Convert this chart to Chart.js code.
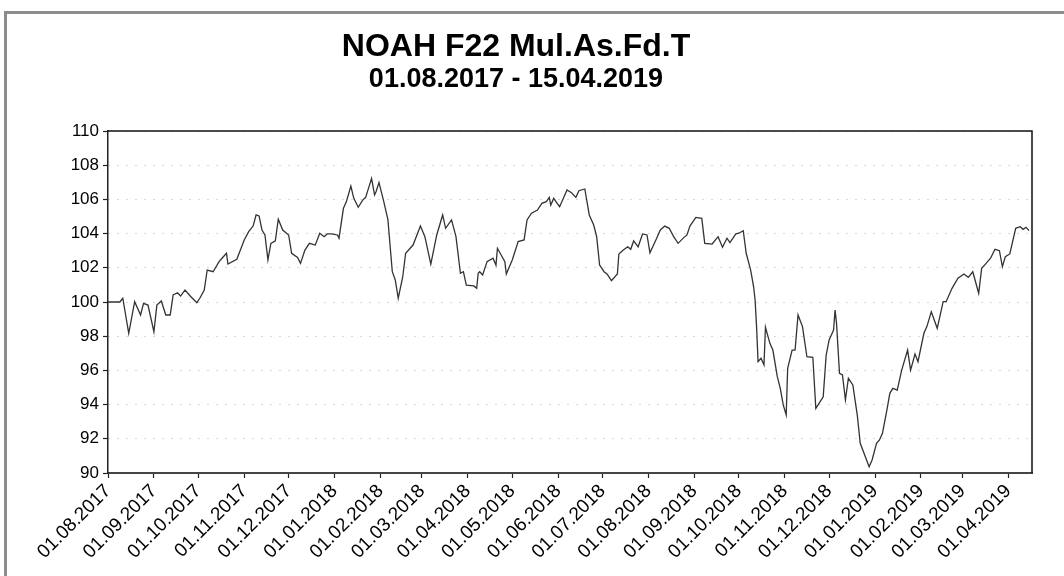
<!DOCTYPE html>
<html lang="de">
<head>
<meta charset="utf-8">
<script src="https://cdn.jsdelivr.net/npm/chart.js"></script>
<style>
    html, body { margin: 0; padding: 0; background: #fff; overflow: hidden; }
    .page { position: relative; width: 1064px; height: 576px; overflow: hidden; }
    .frame {
        position: absolute; left: 4px; top: 11px; width: 1100px; height: 620px;
        border: 3px solid #8c8c8c; box-sizing: border-box;
    }
    #chart { position: absolute; left: 0; top: 0; }
</style>
</head>
<body>
<div class="page">
    <div class="frame"></div>
    <canvas id="chart" width="1064" height="576"></canvas>
</div>
<script>
    const chartTitle = 'NOAH F22 Mul.As.Fd.T';
    const chartSubtitle = '01.08.2017 - 15.04.2019';
    const startDate = '01.08.2017';

    // days since 01.08.2017
    const dayOffsets = [
        0, 8, 10, 14, 18, 22, 24, 27, 31, 33, 36, 39, 42, 44, 47, 49, 52, 56, 60, 62,
        65, 67, 71, 75, 77, 80, 81, 87, 92, 95, 98, 100, 102, 104, 106, 108, 110, 113, 115, 118,
        122, 124, 128, 130, 133, 136, 140, 143, 146, 148, 151, 155, 156, 159, 161, 164, 166, 169, 172, 174,
        178, 180, 181, 183, 186, 189, 192, 194, 196, 199, 201, 206, 211, 214, 218, 222, 226, 228, 232, 235,
        238, 240, 242, 247, 249, 250, 251, 253, 256, 260, 262, 263, 268, 269, 273, 277, 281, 283, 286, 290,
        293, 296, 298, 299, 301, 303, 305, 310, 313, 316, 318, 322, 325, 328, 330, 332, 335, 337, 340, 344,
        345, 348, 351, 353, 355, 358, 361, 364, 366, 370, 373, 376, 379, 382, 385, 389, 391, 393, 397, 401,
        403, 408, 412, 415, 418, 420, 424, 426, 429, 431, 434, 436, 437, 438, 439, 441, 443, 444, 447, 449,
        452, 454, 456, 458, 459, 462, 464, 466, 469, 472, 476, 478, 483, 485, 487, 490, 491, 492, 494, 496,
        498, 500, 503, 506, 508, 511, 514, 516, 519, 521, 523, 526, 528, 530, 533, 536, 540, 542, 545, 547,
        551, 553, 556, 560, 564, 566, 570, 574, 578, 581, 584, 588, 590, 593, 596, 599, 602, 604, 606, 609,
        613, 616, 618, 620, 622
    ];

    const prices = [
        100.0, 100.0, 100.22, 98.17, 100.02, 99.24, 99.92, 99.82, 98.26, 99.82, 100.06, 99.24, 99.24, 100.41, 100.54, 100.35, 100.70, 100.31, 99.96, 100.22,
        100.70, 101.87, 101.77, 102.36, 102.56, 102.85, 102.22, 102.50, 103.63, 104.11, 104.44, 105.09, 105.03, 104.21, 103.92, 102.46, 103.43, 103.58, 104.84, 104.21,
        103.92, 102.85, 102.61, 102.26, 103.04, 103.43, 103.33, 104.02, 103.82, 103.98, 103.98, 103.92, 103.73, 105.48, 105.87, 106.78, 106.06, 105.54, 105.96, 106.12,
        107.23, 106.26, 106.45, 106.98, 105.96, 104.84, 101.77, 101.29, 100.22, 101.45, 102.85, 103.33, 104.44, 103.82, 102.22, 103.92, 105.09, 104.31, 104.80, 103.82,
        101.68, 101.77, 100.99, 100.94, 100.80, 101.68, 101.77, 101.58, 102.36, 102.56, 102.16, 103.14, 102.36, 101.64, 102.46, 103.53, 103.63, 104.80, 105.19, 105.38,
        105.77, 105.87, 106.12, 105.67, 106.06, 105.81, 105.57, 106.55, 106.39, 106.12, 106.51, 106.61, 105.09, 104.50, 103.82, 102.16, 101.77, 101.64, 101.25, 101.64,
        102.81, 103.04, 103.23, 103.08, 103.58, 103.23, 103.98, 103.92, 102.88, 103.63, 104.21, 104.44, 104.31, 103.82, 103.43, 103.78, 103.92, 104.44, 104.95, 104.89,
        103.43, 103.39, 103.82, 103.20, 103.73, 103.47, 103.98, 104.02, 104.17, 102.85, 101.87, 100.89, 100.12, 98.56, 96.51, 96.71, 96.32, 98.52, 97.58, 97.19,
        95.63, 94.95, 93.98, 93.39, 96.12, 97.19, 97.19, 99.24, 98.56, 96.80, 96.77, 93.78, 94.46, 96.90, 97.78, 98.36, 99.53, 98.75, 95.83, 95.73,
        94.27, 95.54, 95.15, 93.39, 91.74, 91.05, 90.37, 90.76, 91.74, 91.93, 92.32, 93.68, 94.66, 94.95, 94.85, 96.02, 97.19, 96.02, 96.96, 96.51,
        98.17, 98.56, 99.43, 98.46, 100.02, 100.02, 100.80, 101.39, 101.64, 101.44, 101.77, 100.51, 101.97, 102.26, 102.56, 103.08, 103.00, 102.06, 102.65, 102.81,
        104.31, 104.40, 104.25, 104.37, 104.17
    ];

    const tickLabels = [
        '01.08.2017', '01.09.2017', '01.10.2017', '01.11.2017', '01.12.2017',
        '01.01.2018', '01.02.2018', '01.03.2018', '01.04.2018', '01.05.2018',
        '01.06.2018', '01.07.2018', '01.08.2018', '01.09.2018', '01.10.2018',
        '01.11.2018', '01.12.2018', '01.01.2019', '01.02.2019', '01.03.2019',
        '01.04.2019'
    ];

    function toDay(s) {
        const [d, m, y] = s.split('.').map(Number);
        const [d0, m0, y0] = startDate.split('.').map(Number);
        return Math.round((Date.UTC(y, m - 1, d) - Date.UTC(y0, m0 - 1, d0)) / 86400000);
    }
    const tickDays = tickLabels.map(toDay);

    const fontFamily = '"Liberation Sans", Arial, sans-serif';

    const plotFrame = {
        id: 'plotFrame',
        afterDraw(chart) {
            const { ctx, chartArea: a } = chart;
            ctx.save();
            ctx.strokeStyle = '#111';
            ctx.lineWidth = 1.5;
            ctx.beginPath();
            ctx.moveTo(a.left, a.top);
            ctx.lineTo(a.right, a.top);
            ctx.lineTo(a.right, a.bottom);
            ctx.stroke();
            ctx.restore();
        }
    };

    new Chart(document.getElementById('chart'), {
        type: 'line',
        data: {
            datasets: [{
                data: dayOffsets.map((d, i) => ({ x: d, y: prices[i] })),
                borderColor: '#333',
                borderWidth: 1.3,
                pointRadius: 0,
                tension: 0,
                fill: false
            }]
        },
        options: {
            responsive: false,
            animation: false,
            layout: { padding: { top: 8, left: 0, right: 32, bottom: 0 } },
            plugins: {
                legend: { display: false },
                tooltip: { enabled: false },
                title: {
                    display: true,
                    text: chartTitle,
                    color: '#000',
                    font: { family: fontFamily, size: 32, weight: 'bold', lineHeight: 1.2 },
                    padding: { top: 20, bottom: 0 }
                },
                subtitle: {
                    display: true,
                    text: chartSubtitle,
                    color: '#000',
                    font: { family: fontFamily, size: 27, weight: 'bold', lineHeight: 1.0 },
                    padding: { top: 0, bottom: 37.6 }
                }
            },
            scales: {
                x: {
                    type: 'linear',
                    min: 0,
                    max: 624,
                    afterBuildTicks: (scale) => { scale.ticks = tickDays.map(v => ({ value: v })); },
                    afterFit: (scale) => { scale.height = 103; },
                    ticks: {
                        autoSkip: false,
                        minRotation: 45,
                        maxRotation: 45,
                        padding: 2,
                        color: '#000',
                        font: { family: fontFamily, size: 19 },
                        callback: (v, i) => tickLabels[i]
                    },
                    grid: {
                        drawOnChartArea: false,
                        drawTicks: true,
                        tickLength: 5,
                        tickColor: '#222',
                        tickWidth: 1.2
                    },
                    border: { display: true, color: '#444', width: 2 }
                },
                y: {
                    min: 90,
                    max: 110,
                    afterFit: (scale) => { scale.width = 108; },
                    ticks: {
                        stepSize: 2,
                        padding: 4,
                        color: '#000',
                        font: { family: fontFamily, size: 17 }
                    },
                    grid: {
                        color: '#b0b0b0',
                        lineWidth: 1,
                        tickLength: 5,
                        tickColor: '#222',
                        tickWidth: 1.2
                    },
                    border: { display: true, color: '#222', width: 1.5, dash: [1, 8] }
                }
            }
        },
        plugins: [plotFrame]
    });
</script>
</body>
</html>
